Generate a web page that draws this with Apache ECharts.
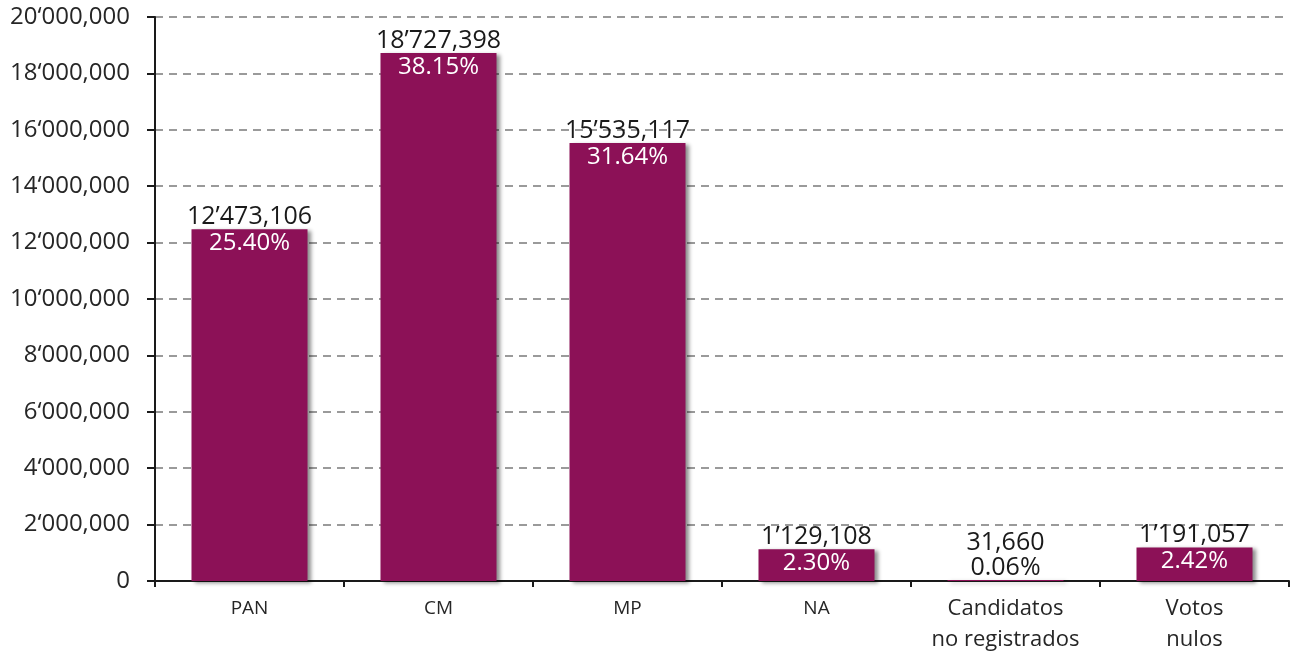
<!DOCTYPE html>
<html>
<head>
<meta charset="utf-8">
<script src="https://cdn.jsdelivr.net/npm/echarts@6/dist/echarts.min.js"></script>
<style>html,body{margin:0;padding:0;background:#fff}#c{width:1290px;height:655px}</style>
</head>
<body>
<div id="c"></div>
<script>
var categories = ['PAN', 'CM', 'MP', 'NA', 'Candidatos\nno registrados', 'Votos\nnulos'];
var votes = [12473106, 18727398, 15535117, 1129108, 31660, 1191057];
var voteLabels = ['12’473,106', '18’727,398', '15’535,117', '1’129,108', '31,660', '1’191,057'];
var percentLabels = ['25.40%', '38.15%', '31.64%', '2.30%', '0.06%', '2.42%'];
var yTickLabels = ['0', '2‘000,000', '4‘000,000', '6‘000,000', '8‘000,000', '10‘000,000', '12‘000,000', '14‘000,000', '16‘000,000', '18‘000,000', '20‘000,000'];

var FONT = 'Open Sans';
var chart = echarts.init(document.getElementById('c'));
var smallIdx = 4;

chart.setOption({
  animation: false,
  grid: {left: 155, right: 1, top: 17, bottom: 71},
  xAxis: {
    type: 'category',
    data: categories,
    axisLine: {lineStyle: {color: '#1a1a1a', width: 2}},
    axisTick: {show: true, length: 6, lineStyle: {color: '#1a1a1a', width: 2}},
    axisLabel: {
      interval: 0, hideOverlap: false,
      color: '#262626', fontFamily: FONT, fontSize: 22, lineHeight: 31, margin: 12,
      formatter: function (v) { return v.length <= 3 ? '{s|' + v + '}' : v; },
      rich: {s: {fontSize: 19, fontFamily: FONT, color: '#262626', lineHeight: 31}}
    }
  },
  yAxis: {
    type: 'value',
    min: 0, max: 20000000, interval: 2000000,
    axisLine: {show: true, lineStyle: {color: '#1a1a1a', width: 2}},
    axisTick: {show: true, length: 8, lineStyle: {color: '#1a1a1a', width: 2}},
    axisLabel: {
      color: '#262626', fontFamily: FONT, fontSize: 24, margin: 25,
      formatter: function (v) { return yTickLabels[Math.round(v / 2000000)]; }
    },
    splitLine: {lineStyle: {color: '#9a9a9a', width: 2, type: [8, 6]}}
  },
  series: [
    {
      type: 'bar',
      barWidth: 116,
      data: votes.map(function (v, i) {
        return {value: v, label: {show: i !== smallIdx}};
      }),
      itemStyle: {
        color: '#8C1157',
        shadowColor: 'rgba(0,0,0,0.45)', shadowBlur: 4, shadowOffsetX: 3, shadowOffsetY: 2
      },
      label: {
        position: 'insideTop', distance: 2,
        color: '#ffffff', fontFamily: FONT, fontSize: 24,
        formatter: function (p) { return percentLabels[p.dataIndex]; }
      },
      z: 2
    },
    {
      type: 'bar',
      barWidth: 116,
      barGap: '-100%',
      data: votes,
      itemStyle: {color: 'rgba(0,0,0,0)'},
      label: {
        show: true, position: 'top', distance: 0,
        color: '#1a1a1a', fontFamily: FONT, fontSize: 25, lineHeight: 25,
        formatter: function (p) {
          return p.dataIndex === smallIdx ? voteLabels[p.dataIndex] + '\n' + percentLabels[p.dataIndex] : voteLabels[p.dataIndex];
        }
      },
      z: 3
    }
  ]
});
</script>
</body>
</html>
